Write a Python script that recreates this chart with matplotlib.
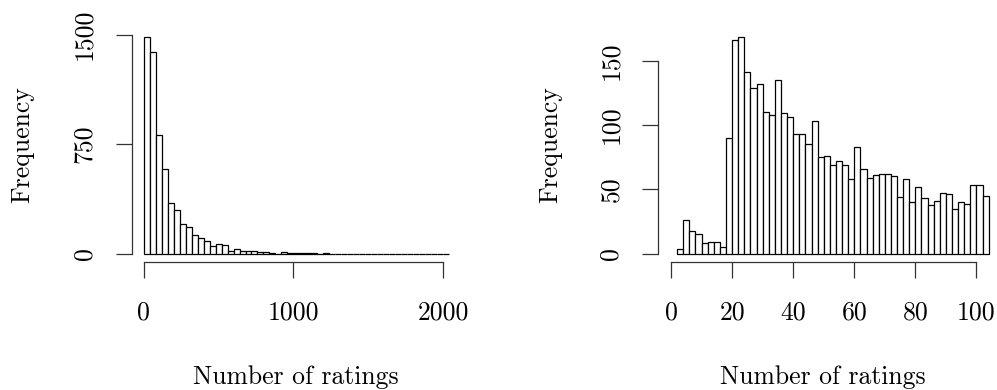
import numpy as np
import matplotlib
matplotlib.use("Agg")
import matplotlib.pyplot as plt

# histogram of number of ratings (all), bins of 40 starting at 0
all_width = 40
all_counts = [1482, 1384, 810, 582, 349, 297, 205, 180, 126, 110,
              84, 55, 66, 57, 21, 32, 21, 16, 18, 14,
              11, 5, 1, 9, 5, 7, 3, 2, 2, 1,
              2, 1, 1, 1, 0, 0, 0, 1, 0, 0,
              0, 0, 0, 0, 0, 0, 1, 0, 0, 0, 1]
all_yticks = [0, 750, 1500]
all_xticks = [0, 1000, 2000]

# histogram of number of ratings (zoomed), bins of 2 starting at 2
few_start = 2
few_width = 2
few_counts = [4, 26, 18, 15, 8, 9, 9, 5, 90, 166,
              168, 141, 129, 132, 110, 108, 135, 109, 106, 93,
              93, 85, 103, 75, 76, 69, 72, 69, 58, 83,
              66, 59, 61, 62, 62, 60, 44, 58, 40, 52,
              43, 38, 41, 47, 46, 35, 40, 39, 53, 53, 45]
few_yticks = [0, 50, 100, 150]
few_xticks = [0, 20, 40, 60, 80, 100]

plt.rcParams['font.family'] = 'cmr10'
plt.rcParams['axes.formatter.use_mathtext'] = True
FS = 18.5
LW = 0.9

fig = plt.figure(figsize=(9.97, 3.9), dpi=100)


def r_hist(ax, left_edges, counts, width, xlim, ylim, xticks, yticks):
    ax.bar(left_edges, counts, width=width, align='edge',
           facecolor='white', edgecolor='black', linewidth=LW)
    ax.set_xlim(*xlim)
    ax.set_ylim(*ylim)
    ax.set_xticks(xticks)
    ax.set_yticks(yticks)
    ax.set_xticklabels([str(t) for t in xticks])
    ax.set_yticklabels([str(t) for t in yticks])
    for s in ['top', 'right']:
        ax.spines[s].set_visible(False)
    ax.spines['left'].set_bounds(yticks[0], yticks[-1])
    ax.spines['bottom'].set_bounds(xticks[0], xticks[-1])
    for s in ['left', 'bottom']:
        ax.spines[s].set_linewidth(LW)
        ax.spines[s].set_color('#333333')
    ax.tick_params(axis='both', length=11.5, width=LW, color='#333333',
                   labelsize=FS, colors='black')
    ax.tick_params(axis='x', pad=16)
    ax.tick_params(axis='y', pad=14, labelrotation=90)
    for lab in ax.get_yticklabels():
        lab.set_va('center')
    ax.patch.set_alpha(0)


ax1 = fig.add_axes([0.1319, 0.3272, 0.3308, 0.5992])
edges1 = np.arange(len(all_counts)) * all_width
r_hist(ax1, edges1, all_counts, all_width, (-81.6, 2121.6), (-59.3, 1541.3),
       all_xticks, all_yticks)

ax2 = fig.add_axes([0.6603, 0.3272, 0.3441, 0.5992])
edges2 = few_start + np.arange(len(few_counts)) * few_width
r_hist(ax2, edges2, few_counts, few_width, (-4.16, 108.16), (-6.72, 174.72),
       few_xticks, few_yticks)

fig.text(296 / 997, 1 - 377 / 390, "Number of ratings", fontsize=FS,
         ha='center', va='center')
fig.text(823 / 997, 1 - 377 / 390, "Number of ratings", fontsize=FS,
         ha='center', va='center')
fig.text(22 / 997, 1 - 145 / 390, "Frequency", fontsize=FS,
         ha='center', va='center', rotation=90)
fig.text(550 / 997, 1 - 145 / 390, "Frequency", fontsize=FS,
         ha='center', va='center', rotation=90)

fig.savefig("out.png", dpi=100)
